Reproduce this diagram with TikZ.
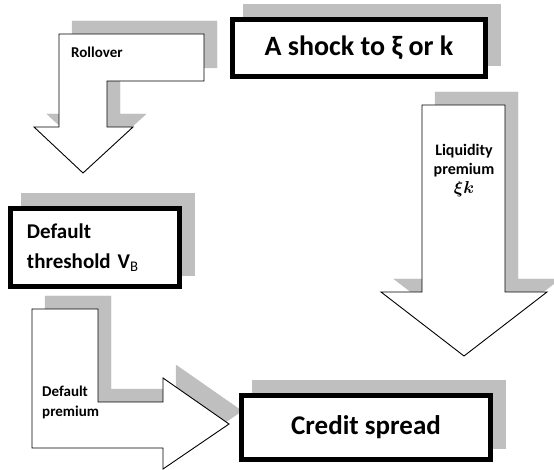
\documentclass[tikz,border=0pt]{standalone}
\usepackage{fontspec}
\usepackage{amsmath}
\setmainfont{Carlito}
\usetikzlibrary{shadows}
\tikzset{
  greyshadow/.style={drop shadow={shadow xshift=13pt, shadow yshift=13pt,
    opacity=1, fill=black!25, draw=black!25}},
  bigbox/.style={draw=black, line width=5pt, fill=white, greyshadow},
  blockarrow/.style={draw=black, line width=0.9pt, fill=white, greyshadow},
  arrowlabel/.style={inner sep=0pt, align=left},
}
\begin{document}
\begin{tikzpicture}[x=1pt,y=-1pt]
  \useasboundingbox (0,0) rectangle (554,470);
  \path[blockarrow] (59,34) -- (204,34) -- (204,81) -- (107,81) -- (107,127)
    -- (133,127) -- (83,173) -- (34,127) -- (59,127) -- cycle;
  \path[blockarrow] (422,105) -- (505,105) -- (505,292) -- (547,292)
    -- (464,356) -- (381,292) -- (422,292) -- cycle;
  \path[blockarrow] (32,309) -- (98,309) -- (98,402) -- (163,402) -- (163,378)
    -- (229,424) -- (163,469) -- (163,448) -- (32,448) -- cycle;
  \node[arrowlabel, anchor=base west, font=\fontsize{15}{20}\selectfont\bfseries]
    (rollover) at (71,58) {Rollover};
  \node[arrowlabel, anchor=north, align=center, font=\fontsize{16}{19}\selectfont\bfseries]
    (liquidity) at (464,144) {Liquidity\\premium\\$\boldsymbol{\xi k}$};
  \node[arrowlabel, anchor=north west, font=\fontsize{15}{20}\selectfont\bfseries]
    (defprem) at (42,386) {Default\\premium};
  \node[bigbox, minimum width=253pt, minimum height=57pt,
    font=\fontsize{28}{34}\selectfont\bfseries] (shock) at (359,48) {A shock to ξ or k};
  \node[bigbox, minimum height=78pt, text width=136pt, inner xsep=16.5pt, align=left,
    font=\fontsize{21}{30}\selectfont\bfseries] (threshold) at (95,247.5)
    {Default\\threshold V\textsubscript{\mdseries B}};
  \node[bigbox, minimum width=249pt, minimum height=64pt,
    font=\fontsize{27}{32}\selectfont\bfseries] (spread) at (366,427.5) {Credit spread};
\end{tikzpicture}
\end{document}
